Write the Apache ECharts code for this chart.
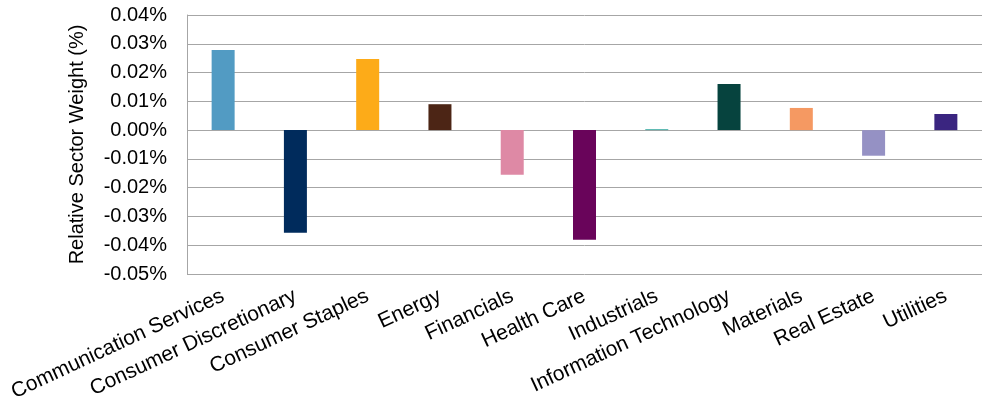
<!DOCTYPE html>
<html>
<head>
<meta charset="utf-8">
<script src="https://cdn.jsdelivr.net/npm/echarts@6/dist/echarts.min.js"></script>
<style>
  html, body { margin: 0; padding: 0; background: #fff; }
  #chart { width: 985px; height: 404px; }
</style>
</head>
<body>
<div id="chart"></div>
<script>
// sectors along the x axis
const sectors = [
  'Communication Services', 'Consumer Discretionary', 'Consumer Staples', 'Energy',
  'Financials', 'Health Care', 'Industrials', 'Information Technology',
  'Materials', 'Real Estate', 'Utilities'
]
// relative sector weight, in %
const weights = [0.0278, -0.0357, 0.0247, 0.0090, -0.0155, -0.0381, 0.0003, 0.0160, 0.0077, -0.0089, 0.0056]
const barColors = ['#529bc3', '#002b5c', '#fdab18', '#4c2515', '#de89a5', '#69045a', '#2ba59b', '#06433e', '#f59962', '#9591c4', '#3a2580']

const font = "'Liberation Sans', Arial, sans-serif"
const myChart = echarts.init(document.getElementById('chart'))

myChart.setOption({
  animation: false,
  grid: { left: 187, right: 3, top: 15, bottom: 130 },
  xAxis: {
    type: 'category',
    data: sectors,
    axisLine: { show: false, onZero: false },
    axisTick: { show: false },
    axisLabel: {
      interval: 0,
      rotate: 25,
      margin: 21,
      color: '#000',
      fontSize: 21,
      fontFamily: font
    }
  },
  yAxis: {
    type: 'value',
    min: -0.05,
    max: 0.04,
    interval: 0.01,
    name: 'Relative Sector Weight (%)',
    nameLocation: 'middle',
    nameGap: 100,
    nameTextStyle: { color: '#000', fontSize: 20, fontFamily: font },
    axisLine: { show: true, lineStyle: { color: '#a6a6a6', width: 1 } },
    axisTick: { show: false },
    axisLabel: {
      margin: 20,
      color: '#000',
      fontSize: 20,
      fontFamily: font,
      formatter: v => v.toFixed(2) + '%'
    },
    splitLine: { lineStyle: { color: '#a6a6a6', width: 1 } }
  },
  series: [
    {
      type: 'bar',
      barWidth: 23,
      data: weights.map((v, i) => ({ value: v, itemStyle: { color: barColors[i] } }))
    }
  ]
})
</script>
</body>
</html>
